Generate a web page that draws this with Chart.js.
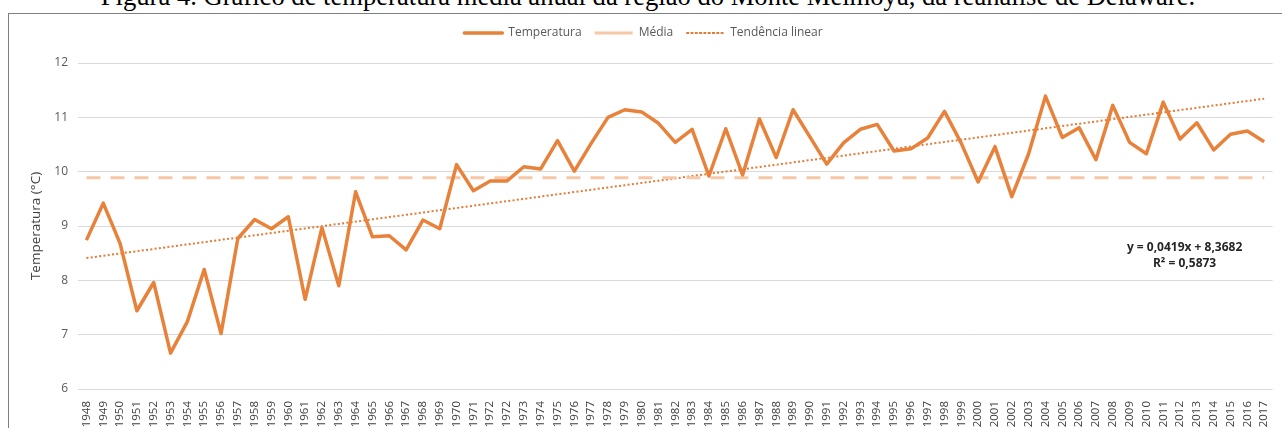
<!DOCTYPE html>
<html lang="pt">
<head>
<meta charset="utf-8">
<script src="https://cdn.jsdelivr.net/npm/chart.js@4"></script>
<style>
  html, body { margin: 0; padding: 0; background: #fff; overflow: hidden; }
  body { width: 1282px; height: 428px; position: relative; }
  #titulo {
    position: absolute; left: 0; top: -17px; width: 1296px;
    text-align: center; white-space: nowrap;
    font-family: "Liberation Serif", "DejaVu Serif", serif; font-size: 26.6px; line-height: 26.6px; color: #000;
  }
  #moldura {
    position: absolute; left: 8px; top: 13px; width: 1300px; height: 430px;
    border: 1px solid #7f7f7f; box-sizing: border-box; background: transparent;
  }
  #grafico { position: absolute; left: 9px; top: 14px; }
</style>
</head>
<body>
<div id="titulo">Figura 4. Gráfico de temperatura média anual da região do Monte Meimoya, da reanálise de Delaware.</div>
<div id="moldura"></div>
<canvas id="grafico" width="1273" height="414"></canvas>
<script>
// anos (o 1972 aparece repetido no eixo original)
const anos = [
  '1948', '1949', '1950', '1951', '1952', '1953', '1954', '1955', '1956', '1957',
  '1958', '1959', '1960', '1961', '1962', '1963', '1964', '1965', '1966', '1967',
  '1968', '1969', '1970', '1971', '1972', '1972', '1973', '1974', '1975', '1976',
  '1977', '1978', '1979', '1980', '1981', '1982', '1983', '1984', '1985', '1986',
  '1987', '1988', '1989', '1990', '1991', '1992', '1993', '1994', '1995', '1996',
  '1997', '1998', '1999', '2000', '2001', '2002', '2003', '2004', '2005', '2006',
  '2007', '2008', '2009', '2010', '2011', '2012', '2013', '2014', '2015', '2016',
  '2017'
];

// temperatura média anual (°C)
const temperatura = [
  8.74, 9.42, 8.68, 7.44, 7.96, 6.66, 7.24, 8.20, 7.02, 8.77,
  9.12, 8.95, 9.17, 7.65, 8.97, 7.90, 9.63, 8.80, 8.82, 8.56,
  9.11, 8.95, 10.13, 9.65, 9.83, 9.83, 10.09, 10.05, 10.57, 10.01,
  10.52, 11.00, 11.14, 11.10, 10.89, 10.54, 10.78, 9.92, 10.79, 9.94,
  10.97, 10.26, 11.14, 10.64, 10.14, 10.53, 10.78, 10.87, 10.38, 10.42,
  10.62, 11.11, 10.52, 9.81, 10.46, 9.54, 10.33, 11.39, 10.63, 10.81,
  10.22, 11.22, 10.54, 10.33, 11.28, 10.60, 10.90, 10.40, 10.69, 10.75,
  10.55
];

// média do período e tendência linear (equação do gráfico)
const mediaValor = 9.89;
const tendInclinacao = 0.0419;
const tendIntercepto = 8.3682;
const textoEquacao = ['y = 0,0419x + 8,3682', 'R² = 0,5873'];

const yTicks = [6, 7, 8, 9, 10, 11, 12];

const media = anos.map(() => mediaValor);
const tendencia = anos.map((a, i) => tendIntercepto + tendInclinacao * (i + 1));

// legenda com espaço extra abaixo
const legendaEspaco = {
  id: 'legendaEspaco',
  beforeInit(chart) {
    const fitOriginal = chart.legend.fit;
    chart.legend.fit = function () {
      fitOriginal.bind(chart.legend)();
      this.height += 14;
    };
  }
};

// rótulo da equação da tendência
const equacao = {
  id: 'equacao',
  afterDatasetsDraw(chart) {
    const { ctx, chartArea } = chart;
    const y = chart.scales.y;
    ctx.save();
    ctx.font = 'bold 12px "Open Sans"';
    ctx.fillStyle = '#262626';
    ctx.textAlign = 'center';
    ctx.textBaseline = 'middle';
    const x = chartArea.right - 88;
    ctx.fillText(textoEquacao[0], x, y.getPixelForValue(8.60));
    ctx.fillText(textoEquacao[1], x, y.getPixelForValue(8.30));
    ctx.restore();
  }
};

const ctx = document.getElementById('grafico').getContext('2d');
new Chart(ctx, {
  type: 'line',
  data: {
    labels: anos,
    datasets: [
      {
        label: 'Temperatura',
        data: temperatura,
        borderColor: '#E8823A',
        borderWidth: 3.5,
        borderJoinStyle: 'round',
        pointRadius: 0,
        tension: 0,
      },
      {
        label: 'Média',
        data: media,
        borderColor: '#F6C8A6',
        borderWidth: 3,
        borderDash: [14, 10],
        pointRadius: 0,
      },
      {
        label: 'Tendência linear',
        data: tendencia,
        borderColor: '#E27B35',
        borderWidth: 2,
        borderDash: [2, 2.3],
        pointRadius: 0,
      },
    ],
  },
  options: {
    responsive: false,
    animation: false,
    layout: { padding: { left: 0, right: 4, top: 0, bottom: 0 } },
    plugins: {
      legend: {
        position: 'top',
        labels: {
          boxWidth: 38,
          boxHeight: 0,
          padding: 13,
          color: '#595959',
          font: { family: 'Open Sans', size: 12 },
        },
      },
      tooltip: { enabled: false },
    },
    scales: {
      x: {
        offset: true,
        grid: { display: false },
        border: { display: false },
        afterFit(scale) { scale.height = 39; },
        ticks: {
          autoSkip: false,
          maxRotation: 90,
          minRotation: 90,
          padding: 4,
          color: '#404040',
          font: { family: 'Open Sans', size: 11.5 },
        },
      },
      y: {
        min: 6,
        max: 12,
        afterFit(scale) { scale.width = 69; },
        afterBuildTicks(scale) { scale.ticks = yTicks.map(v => ({ value: v })); },
        grid: { color: '#D9D9D9', lineWidth: 1, drawTicks: false },
        border: { display: false },
        ticks: {
          padding: 10,
          color: '#595959',
          font: { family: 'Open Sans', size: 12 },
        },
        title: {
          display: true,
          text: 'Temperatura (°C)',
          color: '#404040',
          padding: { top: 19, bottom: 0 },
          font: { family: 'Open Sans', size: 13.5 },
        },
      },
    },
  },
  plugins: [legendaEspaco, equacao],
});
</script>
</body>
</html>
